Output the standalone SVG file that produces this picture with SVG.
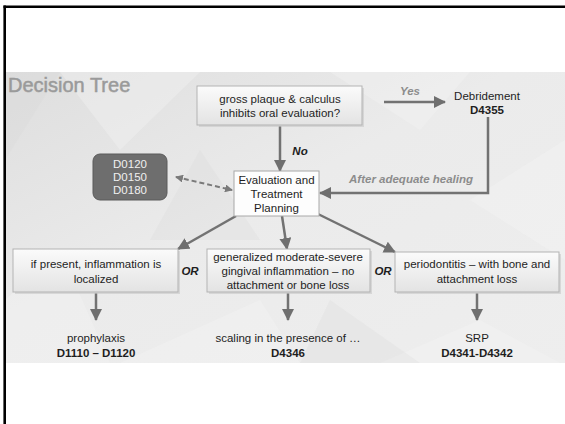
<svg xmlns="http://www.w3.org/2000/svg" width="565" height="424" viewBox="0 0 565 424">
<defs>
<linearGradient id="boxg" x1="0" y1="0" x2="0" y2="1">
<stop offset="0" stop-color="#fbfbfb"/>
<stop offset="1" stop-color="#e3e3e3"/>
</linearGradient>
<linearGradient id="bgg" x1="0" y1="0" x2="1" y2="1">
<stop offset="0" stop-color="#dedede"/>
<stop offset="0.45" stop-color="#ebebeb"/>
<stop offset="1" stop-color="#eeeeee"/>
</linearGradient>
<marker id="ah" markerUnits="userSpaceOnUse" markerWidth="12" markerHeight="12" viewBox="0 0 12 12" refX="11" refY="6" orient="auto">
<path d="M0,0 L12,6 L0,12 Z" fill="#6f6f6f"/>
</marker>
<marker id="ahs" markerUnits="userSpaceOnUse" markerWidth="8" markerHeight="8" viewBox="0 0 8 8" refX="7" refY="4" orient="auto">
<path d="M0,0 L8,4 L0,8 Z" fill="#7a7a7a"/>
</marker>
<marker id="ahsr" markerUnits="userSpaceOnUse" markerWidth="8" markerHeight="8" viewBox="0 0 8 8" refX="1" refY="4" orient="auto">
<path d="M8,0 L0,4 L8,8 Z" fill="#7a7a7a"/>
</marker>
</defs>
<style>
text{font-family:"Liberation Sans",Arial,sans-serif;font-size:11.5px;fill:#1e1e1e;text-anchor:middle}
.b{font-weight:bold}
.bi{font-weight:bold;font-style:italic}
.gl{fill:#8c8c8c}
.box{fill:url(#boxg);stroke:#b3b3b3;stroke-width:1}
.sh{fill:#c8c8c8;opacity:0.6}
.ln{fill:none;stroke:#727272;stroke-width:2.5}
</style>
<rect width="565" height="424" fill="#ffffff"/>
<!-- slide background -->
<rect x="5" y="72" width="560" height="291" fill="url(#bgg)"/>
<g fill="#f6f6f6" opacity="0.35">
<polygon points="60,72 200,72 120,150"/>
<polygon points="330,72 470,72 420,130"/>
<polygon points="470,200 565,140 565,260"/>
<polygon points="120,363 260,300 300,363"/>
<polygon points="5,300 60,250 110,363 5,363"/>
<polygon points="380,363 480,320 560,363"/>
</g>
<g fill="#d8d8d8" opacity="0.25">
<polygon points="5,72 60,72 5,160"/>
<polygon points="200,150 260,240 150,240"/>
<polygon points="330,300 420,363 300,363"/>
</g>
<!-- frame -->
<line x1="4.7" y1="5.5" x2="4.7" y2="424" stroke="#000" stroke-width="2.6"/>
<line x1="3.5" y1="6.8" x2="565" y2="6.8" stroke="#000" stroke-width="2.6"/>
<text x="8" y="92" style="font-size:20px;fill:#9a9a9a;stroke:#9a9a9a;stroke-width:0.5;text-anchor:start">Decision Tree</text>
<!-- connectors -->
<g id="connectors">
<line class="ln" x1="280" y1="126" x2="280" y2="171" marker-end="url(#ah)"/>
<line class="ln" x1="384" y1="102" x2="445" y2="102" marker-end="url(#ah)"/>
<polyline class="ln" points="488,117 488,193 320,193" marker-end="url(#ah)"/>
<line x1="176" y1="177" x2="232" y2="190" stroke="#7a7a7a" stroke-width="2" stroke-dasharray="5,3" marker-start="url(#ahsr)" marker-end="url(#ahs)"/>
<line class="ln" x1="236" y1="216" x2="178" y2="249" marker-end="url(#ah)"/>
<line class="ln" x1="282" y1="216" x2="287" y2="249" marker-end="url(#ah)"/>
<line class="ln" x1="318" y1="214" x2="395" y2="252" marker-end="url(#ah)"/>
<line class="ln" x1="96" y1="293" x2="96" y2="320" marker-end="url(#ah)"/>
<line class="ln" x1="288" y1="293" x2="288" y2="320" marker-end="url(#ah)"/>
<line class="ln" x1="477" y1="293" x2="477" y2="320" marker-end="url(#ah)"/>
<text class="bi" x="300" y="155" style="fill:#1e1e1e">No</text>
<text class="bi gl" x="410" y="95">Yes</text>
<text class="bi gl" x="411" y="183">After adequate healing</text>
<text class="bi" x="190" y="275">OR</text>
<text class="bi" x="383" y="275">OR</text>
</g>
<g id="gross">
<rect class="sh" x="199" y="88" width="165" height="39"/>
<rect class="box" x="197" y="86" width="165" height="39"/>
<text x="280" y="103">gross plaque &amp; calculus</text>
<text x="280" y="117">inhibits oral evaluation?</text>
</g>
<g id="debridement">
<text x="487" y="100">Debridement</text>
<text class="b" x="487" y="114">D4355</text>
</g>
<g id="codes">
<rect x="93" y="154" width="74" height="46" rx="7" fill="#6e6e6e" stroke="#5a5a5a"/>
<text x="130" y="168" style="fill:#f0f0f0">D0120</text>
<text x="130" y="181" style="fill:#f0f0f0">D0150</text>
<text x="130" y="194" style="fill:#f0f0f0">D0180</text>
</g>
<g id="evaluation">
<rect x="234" y="171" width="85" height="45" fill="#fdfdfd" stroke="#a8a8a8"/>
<text x="276.5" y="184">Evaluation and</text>
<text x="276.5" y="198">Treatment</text>
<text x="276.5" y="212">Planning</text>
</g>
<g id="localized">
<rect class="sh" x="15" y="251" width="165" height="43"/>
<rect class="box" x="13" y="249" width="165" height="43"/>
<text x="96" y="268">if present, inflammation is</text>
<text x="96" y="283">localized</text>
</g>
<g id="generalized">
<rect class="sh" x="209" y="251" width="163" height="43"/>
<rect class="box" x="207" y="249" width="163" height="43"/>
<text x="288" y="261">generalized moderate-severe</text>
<text x="288" y="275">gingival inflammation – no</text>
<text x="288" y="289">attachment or bone loss</text>
</g>
<g id="periodontitis">
<rect class="sh" x="397" y="254" width="164" height="40"/>
<rect class="box" x="395" y="252" width="164" height="40"/>
<text x="477" y="268">periodontitis – with bone and</text>
<text x="477" y="283">attachment loss</text>
</g>
<g id="prophylaxis">
<text x="96" y="342">prophylaxis</text>
<text class="b" x="96" y="357">D1110 – D1120</text>
</g>
<g id="scaling">
<text x="288" y="342">scaling in the presence of …</text>
<text class="b" x="288" y="357">D4346</text>
</g>
<g id="srp">
<text x="477" y="342">SRP</text>
<text class="b" x="477" y="357">D4341-D4342</text>
</g>
</svg>
